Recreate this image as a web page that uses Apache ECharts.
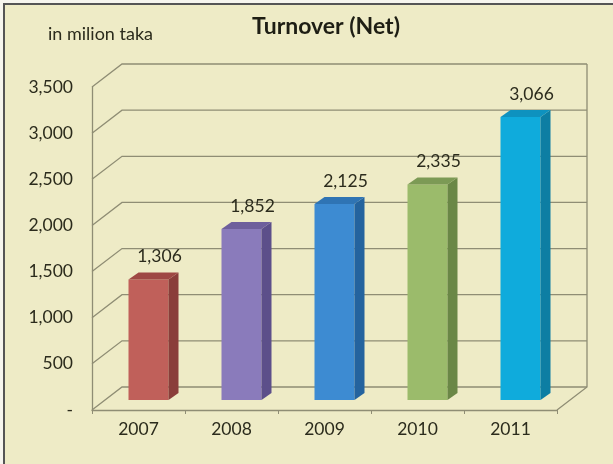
<!DOCTYPE html>
<html>
<head>
<meta charset="utf-8">
<script src="https://cdn.jsdelivr.net/npm/echarts@6/dist/echarts.min.js"></script>
<style>
  html, body { margin: 0; padding: 0; background: #f6f5ee; overflow: hidden; }
  .frame {
    position: absolute; left: 3px; top: 3px; width: 640px; height: 490px;
    background: #eeebc6; border: 2px solid #555;
  }
  #main { position: absolute; left: 0; top: 0; width: 613px; height: 464px; }
</style>
</head>
<body>
<div class="frame"></div>
<div id="main"></div>
<script>
// chart data
var years = ['2007', '2008', '2009', '2010', '2011']
var turnover = [1306, 1852, 2125, 2335, 3066]
var yTicks = [0, 500, 1000, 1500, 2000, 2500, 3000, 3500]
var yTickLabels = ['-', '500', '1,000', '1,500', '2,000', '2,500', '3,000', '3,500']

// bar faces
var frontColors = ['#c0605a', '#8a7bbb', '#3d8bd2', '#9bbb6b', '#0fabdc']
var sideColors = ['#8a3e3a', '#5c4f8a', '#24639e', '#6a8746', '#0d7ea3']
var topColors = ['#9e4844', '#6e5f9c', '#2f74b4', '#7c9a55', '#0e92bf']

var GRID_COLOR = '#8f8d74'
var TEXT_COLOR = '#2b2b1c'
var LABEL_FONT = '17.5px Lato'
var WALL_DX = 30
var WALL_DY = -23
var BAR_W = 40
var BAR_DX = 10
var BAR_DY = -10
var DEPTH_X = 10
var DEPTH_Y = -7

var chart = echarts.init(document.getElementById('main'))

function renderWall(params, api) {
  var v = api.value(1)
  var band = api.size([1, 0])[0]
  var p = api.coord([0, v])
  var x0 = p[0] - band / 2
  var x1 = api.coord([years.length - 1, v])[0] + band / 2
  var y = p[1]
  var children = [
    {
      type: 'polyline',
      shape: { points: [[x0, y], [x0 + WALL_DX, y + WALL_DY], [x1 + WALL_DX, y + WALL_DY]] },
      style: { stroke: GRID_COLOR, lineWidth: 1.3, fill: null },
    },
  ]
  if (v === 0) {
    var top = api.coord([0, yTicks[yTicks.length - 1]])[1]
    children.push({
      type: 'polyline',
      shape: { points: [[x1, y], [x1 + WALL_DX, y + WALL_DY], [x1 + WALL_DX, top + WALL_DY]] },
      style: { stroke: GRID_COLOR, lineWidth: 1.3, fill: null },
    })
  }
  return { type: 'group', children: children }
}

function renderBar(params, api) {
  var i = api.value(0)
  var v = api.value(1)
  var base = api.coord([i, 0])
  var top = api.coord([i, v])
  var xl = base[0] - BAR_W / 2 + BAR_DX
  var xr = xl + BAR_W
  var yb = base[1] + BAR_DY
  var yt = top[1] + BAR_DY
  return {
    type: 'group',
    children: [
      {
        type: 'rect',
        shape: { x: xl, y: yt, width: BAR_W, height: yb - yt },
        style: { fill: frontColors[i] },
      },
      {
        type: 'polygon',
        shape: { points: [[xr, yt], [xr + DEPTH_X, yt + DEPTH_Y], [xr + DEPTH_X, yb + DEPTH_Y], [xr, yb]] },
        style: { fill: sideColors[i] },
      },
      {
        type: 'polygon',
        shape: { points: [[xl, yt], [xl + DEPTH_X, yt + DEPTH_Y], [xr + DEPTH_X, yt + DEPTH_Y], [xr, yt]] },
        style: { fill: topColors[i] },
      },
      {
        type: 'text',
        style: {
          x: (xl + xr) / 2 + 11,
          y: yt - 23,
          text: echarts.format.addCommas(v),
          textAlign: 'center',
          textVerticalAlign: 'middle',
          fill: TEXT_COLOR,
          font: LABEL_FONT,
        },
      },
    ],
  }
}

chart.setOption({
  backgroundColor: 'transparent',
  animation: false,
  textStyle: { fontFamily: 'Lato' },
  title: [
    {
      text: 'Turnover (Net)',
      left: 321,
      top: 10,
      textAlign: 'center',
      textStyle: { fontSize: 23, fontWeight: 'bold', color: '#1e1e14', fontFamily: 'Lato' },
    },
    {
      text: 'in milion taka',
      left: 43,
      top: 20,
      textStyle: { fontSize: 18, fontWeight: 'normal', color: TEXT_COLOR, fontFamily: 'Lato' },
    },
  ],
  grid: {
    left: 92,
    right: 56,
    top: 87,
    bottom: 54,
  },
  xAxis: {
    type: 'category',
    data: years,
    axisLine: { lineStyle: { color: GRID_COLOR, width: 1.3 } },
    axisTick: { show: true, length: 4, lineStyle: { color: GRID_COLOR } },
    axisLabel: { color: TEXT_COLOR, fontSize: 17.5, margin: 10 },
  },
  yAxis: {
    type: 'value',
    min: 0,
    max: 3500,
    interval: 500,
    axisLine: { show: true, lineStyle: { color: GRID_COLOR, width: 1.3 } },
    axisTick: { show: false },
    splitLine: { show: false },
    axisLabel: {
      color: TEXT_COLOR,
      fontSize: 17.5,
      margin: 19,
      formatter: function (v) {
        return yTickLabels[yTicks.indexOf(v)]
      },
    },
  },
  series: [
    {
      type: 'custom',
      renderItem: renderWall,
      data: yTicks.map(function (v) {
        return [0, v]
      }),
      z: 1,
      silent: true,
    },
    {
      type: 'custom',
      renderItem: renderBar,
      data: turnover.map(function (v, i) {
        return [i, v]
      }),
      z: 2,
    },
  ],
})
</script>
</body>
</html>
